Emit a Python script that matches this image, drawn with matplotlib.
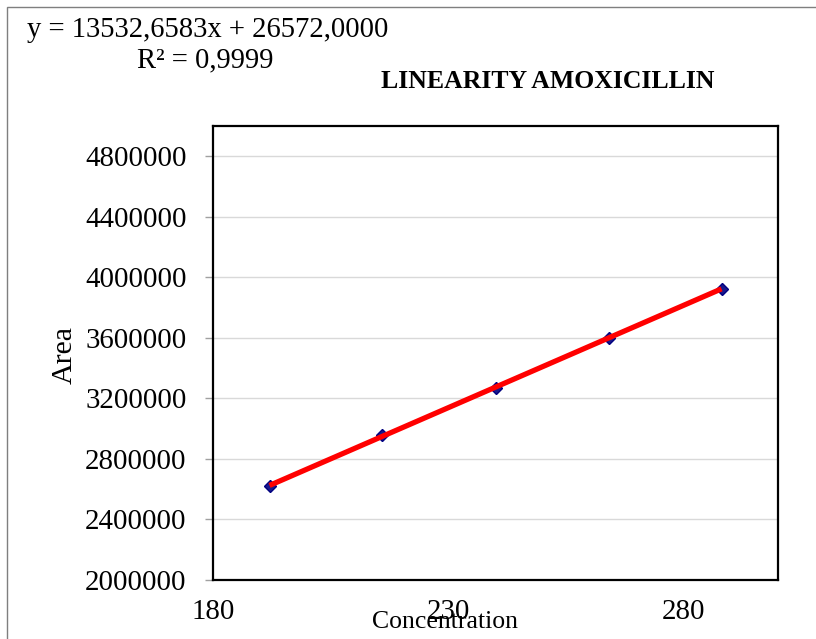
import matplotlib
matplotlib.use("Agg")
import matplotlib.pyplot as plt
from matplotlib.patches import Rectangle

# Calibration data for the linearity study
concentration = [192, 216, 240, 264, 288]
area = [2622842, 2955626, 3270410, 3597194, 3925978]

# Linear trend line reported for the series
slope = 13532.6583
intercept = 26572.0000
r_squared = 0.9999

y_ticks = [2000000, 2400000, 2800000, 3200000, 3600000, 4000000, 4400000, 4800000]
x_ticks = [180, 230, 280]

plt.rcParams["font.family"] = ["Liberation Serif", "DejaVu Serif"]

W, H = 816, 639
fig = plt.figure(figsize=(W / 100, H / 100), dpi=100)
fig.patch.set_facecolor("white")

# Chart-area frame
fig.add_artist(Rectangle((7 / W, -0.1), 1.2, 1 - 7 / H + 0.1,
                         transform=fig.transFigure, fill=False,
                         edgecolor="#7f7f7f", linewidth=1.0))

ax = fig.add_axes([213 / W, 1 - 580 / H, (778 - 213) / W, (580 - 126) / H])
ax.set_xlim(180, 300)
ax.set_ylim(2000000, 5000000)
ax.set_yticks(y_ticks)
ax.set_yticklabels([str(v) for v in y_ticks], fontsize=20.8)
ax.set_xticks(x_ticks)
ax.set_xticklabels([str(v) for v in x_ticks], fontsize=20.8)

ax.grid(axis="y", color="#d9d9d9", linewidth=1.0)
ax.set_axisbelow(True)
for s in ax.spines.values():
    s.set_color("black")
    s.set_linewidth(1.6)

ax.tick_params(axis="y", direction="out", length=6, width=1, color="#a0a0a0", pad=13)
ax.tick_params(axis="x", length=0, pad=14)

# Data points
ax.plot(concentration, area, linestyle="none", marker="D", markersize=6.5,
        markerfacecolor="#1a1a8c", markeredgecolor="#000080", zorder=3)

# Fitted line between first and last concentration
x_fit = [concentration[0], concentration[-1]]
y_fit = [slope * x + intercept for x in x_fit]
ax.plot(x_fit, y_fit, color="#ff0000", linewidth=3.8, solid_capstyle="butt", zorder=4)

ax.set_ylabel("Area", fontsize=21.5)
ax.yaxis.set_label_coords((65 - 213) / 565, 0.495)
ax.set_xlabel("Concentration", fontsize=18.5)
ax.xaxis.set_label_coords((445 - 213) / 565, -(622 - 580) / 454)
ax.xaxis.label.set_va("center")
ax.yaxis.label.set_va("center")

def fmt(v):
    return f"{v:.4f}".replace(".", ",")

fig.text(27 / W, 1 - 30 / H, f"y = {fmt(slope)}x + {fmt(intercept)}",
         fontsize=20.6, ha="left", va="center")
fig.text(205 / W, 1 - 60 / H, f"R² = {fmt(r_squared)}",
         fontsize=20.6, ha="center", va="center")
fig.text(548 / W, 1 - 82 / H, "LINEARITY AMOXICILLIN",
         fontsize=18.5, fontweight="bold", ha="center", va="center")

fig.savefig("out.png", dpi=100, facecolor="white")
